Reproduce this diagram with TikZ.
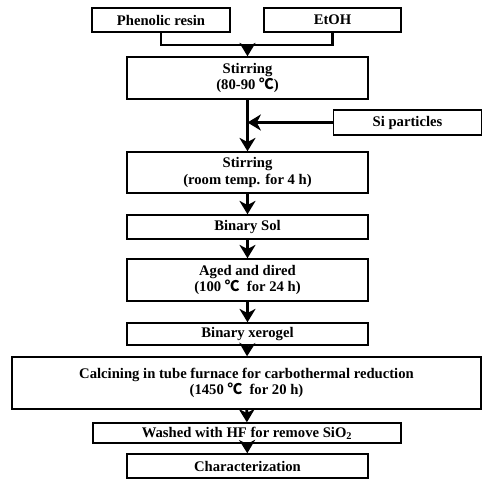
\documentclass[tikz,border=0pt]{standalone}
\usepackage{fontspec}
\setmainfont{Liberation Serif}
\newfontfamily\cjk{Noto Sans CJK SC}
\usetikzlibrary{arrows.meta, positioning}

\begin{document}
\begin{tikzpicture}[
    x=0.75pt, y=-0.75pt,
    every node/.style={font=\bfseries\fontsize{11}{12.5}\selectfont, align=center},
    stepbox/.style={draw, line width=1.1pt, inner sep=0pt, minimum width=181pt},
    arrow/.style={-{Stealth[length=10pt, width=12pt, inset=3pt]}, line width=2.2pt},
    link/.style={line width=2.2pt}
]

\useasboundingbox (0,0) rectangle (482,496);

% ============ RAW MATERIALS ============
\node[stepbox, minimum width=103.5pt, minimum height=18pt] (resin) at (161,20) {Phenolic resin};
\node[stepbox, minimum width=102.75pt, minimum height=18pt] (etoh) at (332.5,20) {EtOH};
\coordinate (merge) at (247.5,45);

\node[stepbox, minimum height=31.5pt] (stir1) at (247.5,78) {Stirring\\(80-90 {\cjk ℃})};

% Si particles added from the right
\node[stepbox, minimum width=111pt, minimum height=18.75pt] (si) at (407.5,122.5) {Si particles};
\coordinate (join) at (stir1.south |- si.west);

% ============ PROCESS CHAIN ============
\node[stepbox, minimum height=30.75pt] (stir2) at (247.5,172.5) {Stirring\\(room temp. for 4 h)};
\node[stepbox, minimum height=18pt] (sol) at (247.5,227) {Binary Sol};
\node[stepbox, minimum height=31.5pt] (aged) at (247.5,280) {Aged and dired\\(100 {\cjk ℃}\ \ for 24 h)};
\node[stepbox, minimum height=16.5pt] (xero) at (247.5,334) {Binary xerogel};
\node[stepbox, minimum width=351.75pt, minimum height=39pt] (calc) at (246.5,383) {Calcining in tube furnace for carbothermal reduction\\(1450 {\cjk ℃}\ \ for 20 h)};
\node[stepbox, minimum width=231pt, minimum height=15pt] (wash) at (247,433) {Washed with HF for remove SiO\textsubscript{2}};
\node[stepbox, minimum height=18pt] (char) at (247.5,466) {Characterization};

% Connectors
\draw[link] (resin.south) |- (merge) -| (etoh.south);
\draw[arrow] (merge) -- (stir1);
\draw[arrow] (si.west) -- (join);
\draw[arrow] (stir1) -- (stir2);
\draw[arrow] (stir2) -- (sol);
\draw[arrow] (sol) -- (aged);
\draw[arrow] (aged) -- (xero);
\draw[arrow] (xero) -- (calc);
\draw[arrow] (calc) -- (wash);
\draw[arrow] (wash) -- (char);

\end{tikzpicture}
\end{document}
